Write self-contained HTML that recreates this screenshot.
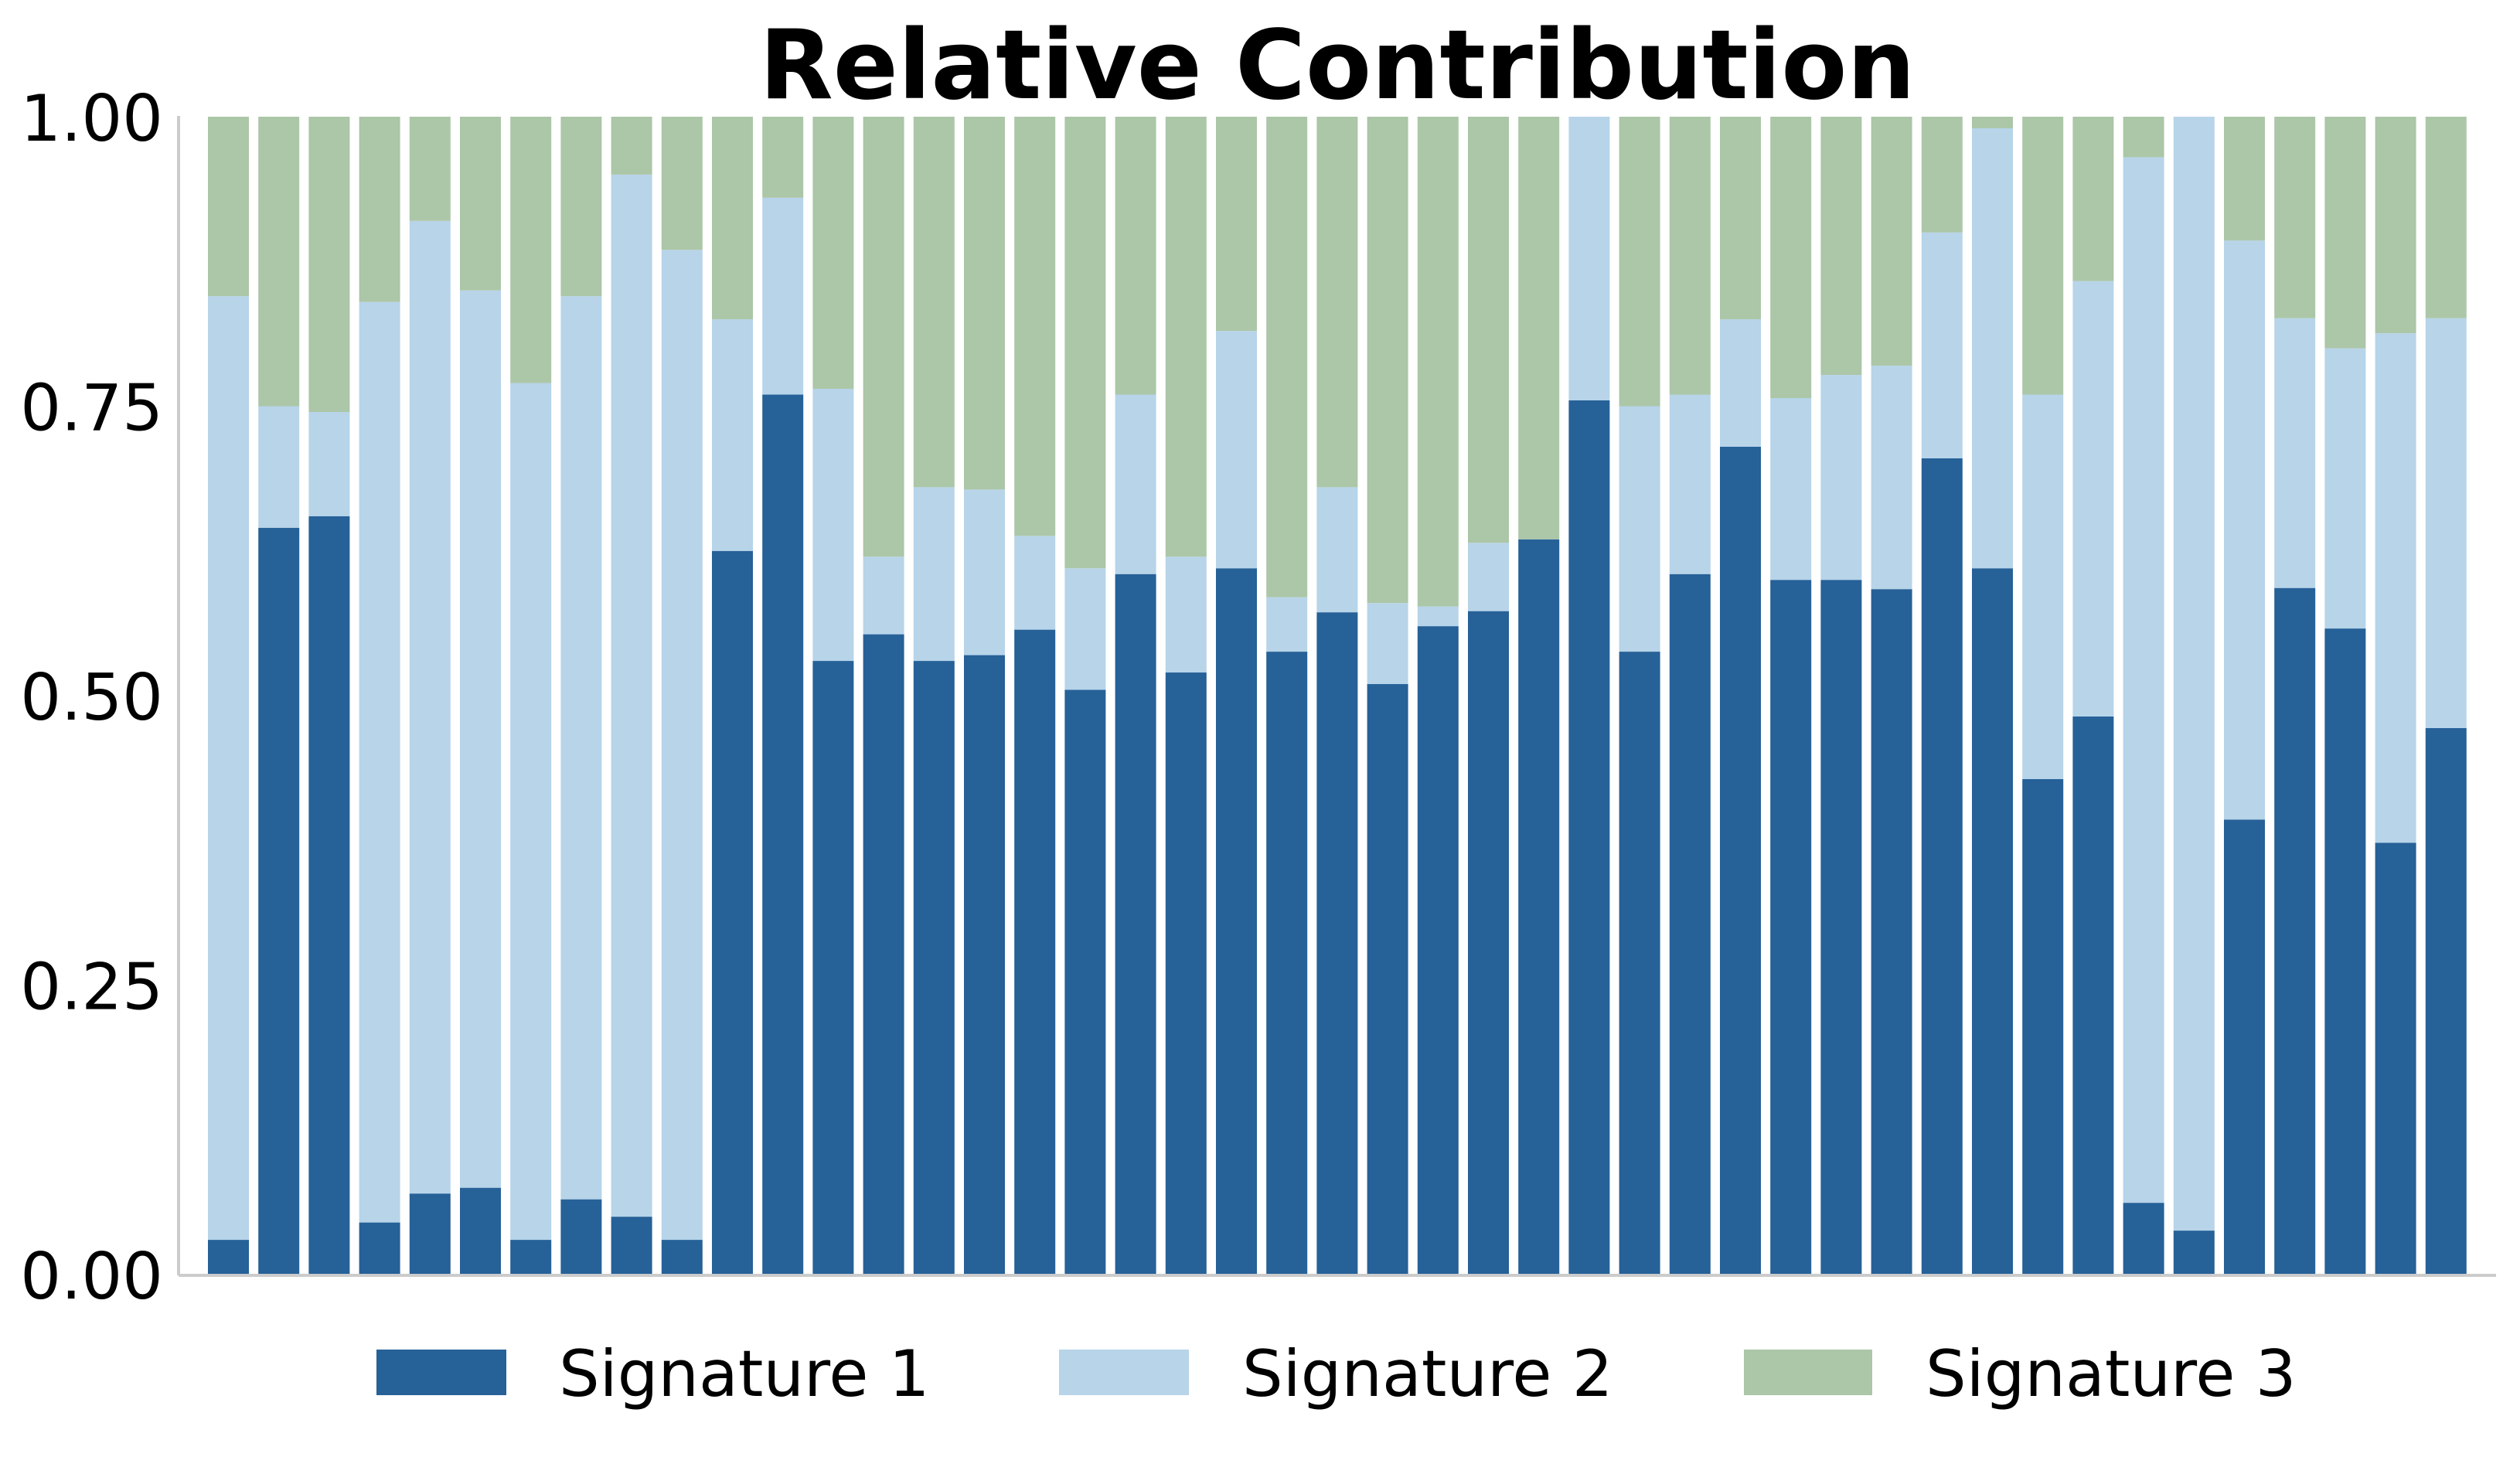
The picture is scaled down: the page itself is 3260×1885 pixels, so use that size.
<!DOCTYPE html>
<html><head><meta charset="utf-8"><style>
body{margin:0;background:#fff}
svg{display:block;font-family:"DejaVu Sans","Liberation Sans",sans-serif}
</style></head><body>
<svg id="chart" width="3260" height="1885" viewBox="0 0 3260 1885" xmlns="http://www.w3.org/2000/svg">
<text x="1730" y="127" font-size="124" font-weight="bold" text-anchor="middle">Relative Contribution</text>
<g id="bars"></g>
<g id="yaxis"></g>
<line x1="231" y1="1650" x2="3229" y2="1650" stroke="#cccccc" stroke-width="4"/>
<line x1="231" y1="150" x2="231" y2="1650" stroke="#cccccc" stroke-width="4"/>
<g>
<rect x="487" y="1746" width="168" height="59" fill="#266198"/>
<text x="723" y="1806" font-size="83">Signature 1</text>
<rect x="1370" y="1746" width="168" height="59" fill="#b7d4e9"/>
<text x="1607" y="1806" font-size="83">Signature 2</text>
<rect x="2256" y="1746" width="166" height="59" fill="#acc6a8"/>
<text x="2491" y="1806" font-size="83">Signature 3</text>
</g>
</svg>
<script>
const sig1 = [0.03,0.645,0.655,0.045,0.07,0.075,0.03,0.065,0.05,0.03,0.625,0.76,0.53,0.553,0.53,0.535,0.557,0.505,0.605,0.52,0.61,0.538,0.572,0.51,0.56,0.573,0.635,0.755,0.538,0.605,0.715,0.6,0.6,0.592,0.705,0.61,0.428,0.482,0.062,0.038,0.393,0.593,0.558,0.373,0.472];
const sig2 = [0.815,0.105,0.09,0.795,0.84,0.775,0.74,0.78,0.9,0.855,0.2,0.17,0.235,0.067,0.15,0.143,0.081,0.105,0.155,0.1,0.205,0.047,0.108,0.07,0.017,0.059,0.0,0.245,0.212,0.155,0.11,0.157,0.177,0.193,0.195,0.38,0.332,0.376,0.903,0.962,0.5,0.233,0.242,0.44,0.354];
const sig3 = [0.155,0.25,0.255,0.16,0.09,0.15,0.23,0.155,0.05,0.115,0.175,0.07,0.235,0.38,0.32,0.322,0.362,0.39,0.24,0.38,0.185,0.415,0.32,0.42,0.423,0.368,0.365,0.0,0.25,0.24,0.175,0.243,0.223,0.215,0.1,0.01,0.24,0.142,0.035,0.0,0.107,0.174,0.2,0.187,0.174];
const yTicks = [0,0.25,0.5,0.75,1.0];
const yTickLabels = ["0.00","0.25","0.50","0.75","1.00"];
const NS="http://www.w3.org/2000/svg";
const y0=1649, y1=151;
function yScale(v){return y0-(y0-y1)*v;}
function xCenter(i){return 295.5+i*65.2;}
const bw=53;
const colors=["#266198","#b7d4e9","#acc6a8"];
const g=document.getElementById('bars');
for(let i=0;i<sig1.length;i++){
  const vals=[sig1[i],sig2[i],sig3[i]];
  const tot=vals[0]+vals[1]+vals[2];
  let cum=0;
  for(let s=0;s<3;s++){
    const v=vals[s]/tot;
    const r=document.createElementNS(NS,'rect');
    
    
    r.setAttribute('x',xCenter(i)-bw/2);
    r.setAttribute('y',yScale(cum+v));
    r.setAttribute('width',bw);
    r.setAttribute('height',Math.max(0,yScale(cum)-yScale(cum+v)));
    r.setAttribute('fill',colors[s]);
    g.appendChild(r);
    cum+=v;
  }
}
const ya=document.getElementById('yaxis');
yTicks.forEach((t,k)=>{
  const tx=document.createElementNS(NS,'text');
  
  
  tx.setAttribute('x',211);
  tx.setAttribute('y',yScale(t)+31);
  tx.setAttribute('font-size','83');
  tx.setAttribute('text-anchor','end');
  tx.textContent=yTickLabels[k];
  ya.appendChild(tx);
});
</script>
</body></html>
